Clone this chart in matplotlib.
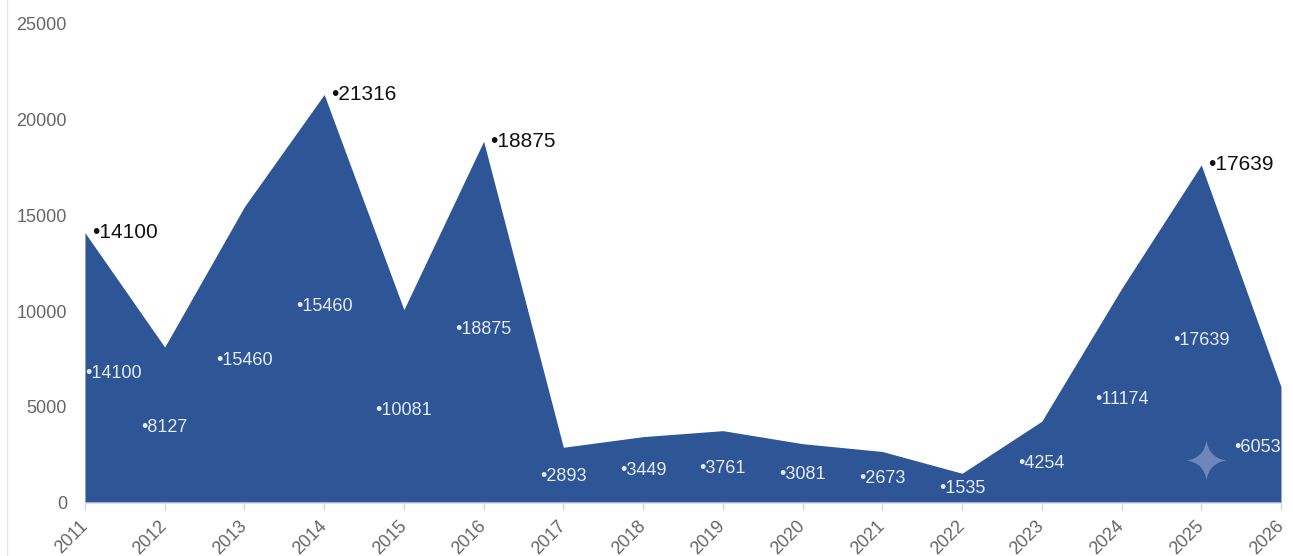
import numpy as np
import matplotlib
matplotlib.use("Agg")
import matplotlib.pyplot as plt
from matplotlib.path import Path
from matplotlib.lines import Line2D
from matplotlib.transforms import ScaledTranslation

plt.rcParams['font.family'] = ['Liberation Sans', 'DejaVu Sans']

# Yearly values
years = [2011, 2012, 2013, 2014, 2015, 2016, 2017, 2018,
         2019, 2020, 2021, 2022, 2023, 2024, 2025, 2026]
values = [14100, 8127, 15460, 21316, 10081, 18875, 2893, 3449,
          3761, 3081, 2673, 1535, 4254, 11174, 17639, 6053]
# text shown inside the area (2014 carries the 2013 figure)
inner_text = [14100, 8127, 15460, 15460, 10081, 18875, 2893, 3449,
              3761, 3081, 2673, 1535, 4254, 11174, 17639, 6053]
# peaks that get a callout above the area
peak_years = [2011, 2014, 2016, 2025]

fill_color = "#2E5596"
x = np.arange(len(years))

fig = plt.figure(figsize=(12.93, 5.56), dpi=100)
ax = fig.add_axes([0.0657, 0.0959, 0.925, 0.861])

ax.fill_between(x, values, 0, color=fill_color, linewidth=0)
ax.axhline(0, color="#B4C7E7", linewidth=1.2, zorder=3)

# labels inside the area, halfway up
for i, (v, t) in enumerate(zip(values, inner_text)):
    ha = "center"
    if i == 0:
        ha = "left"
    elif i == len(values) - 1:
        ha = "right"
    ax.text(x[i], v * 0.48, "\u2022" + str(t), color="#E6ECF7", fontsize=13,
            ha=ha, va="center", zorder=4)

# callouts at the peaks
for yr in peak_years:
    i = years.index(yr)
    ax.annotate("\u2022" + str(values[i]), (x[i], values[i]),
                xytext=(5, 0), textcoords="offset points",
                ha="left", va="center", fontsize=15, color="#111111")

ax.set_xlim(0, len(years) - 1)
ax.set_ylim(0, 25000)
ax.set_xticks(x)
ax.set_xticklabels(years, rotation=45, ha="right", va="center",
                   rotation_mode="anchor")
shift = ScaledTranslation(3 / 72, 0, fig.dpi_scale_trans)
for lbl in ax.get_xticklabels():
    lbl.set_transform(lbl.get_transform() + shift)
ax.set_yticks(range(0, 25001, 5000))
ax.tick_params(axis="x", colors="#C9D6EC", length=5, width=1, labelsize=13,
               labelcolor="#666666", pad=10)
ax.tick_params(axis="y", length=0, labelsize=13, labelcolor="#666666", pad=13)
for s in ax.spines.values():
    s.set_visible(False)

# small sparkle mark with curved sides
k = 0.12
star = Path([(0, 1), (k, k), (1, 0), (k, -k), (0, -1),
             (-k, -k), (-1, 0), (-k, k), (0, 1), (0, 1)],
            [Path.MOVETO, Path.CURVE3, Path.CURVE3, Path.CURVE3, Path.CURVE3,
             Path.CURVE3, Path.CURVE3, Path.CURVE3, Path.CURVE3,
             Path.CLOSEPOLY])
ax.plot([0.9375], [0.089], marker=star, markersize=29, color="#6D87BC",
        markeredgewidth=0, transform=ax.transAxes, zorder=3)

# thin frame line at the left edge
fig.add_artist(Line2D([0.0055, 0.0055], [0, 1], color="#E4E4E4",
                      linewidth=1, transform=fig.transFigure))

fig.savefig("out.png", dpi=100, facecolor="white")
